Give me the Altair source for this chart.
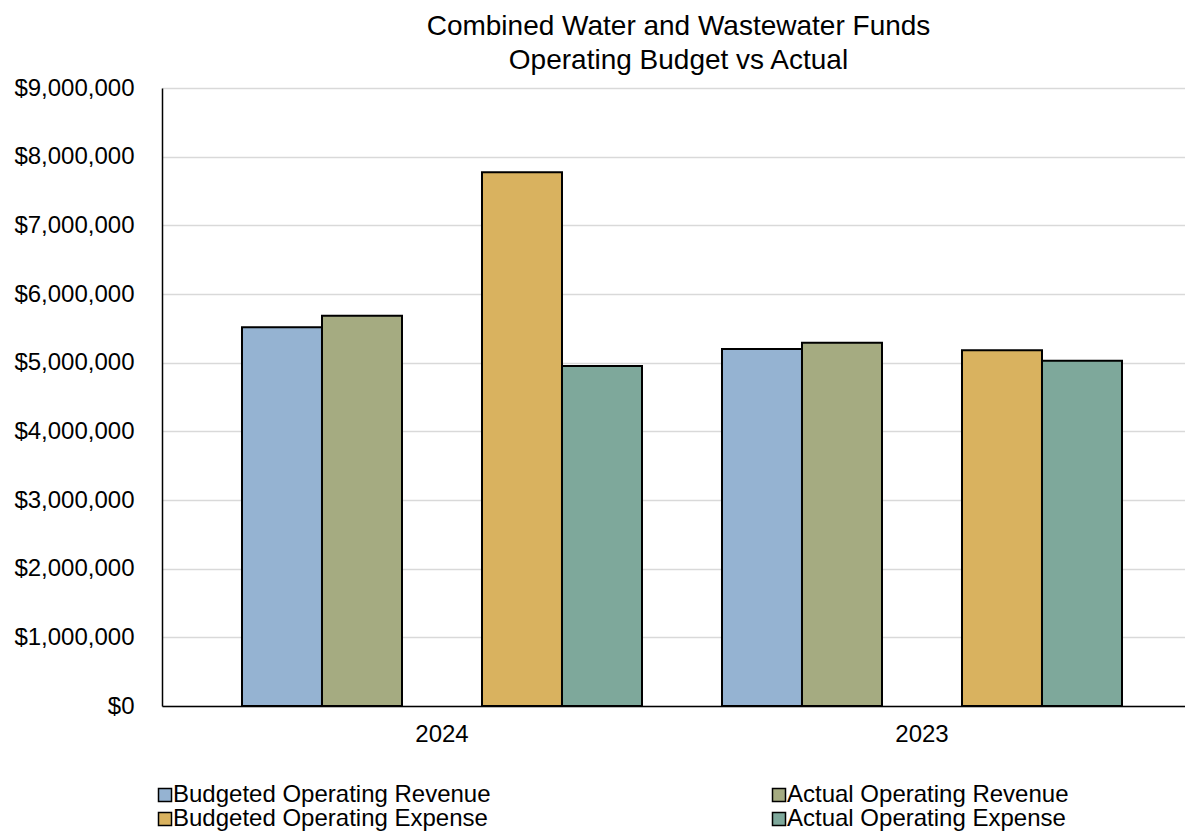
import altair as alt
import pandas as pd

years = ["2024", "2023"]
series = [
    "Budgeted Operating Revenue",
    "Actual Operating Revenue",
    "Budgeted Operating Expense",
    "Actual Operating Expense",
]
colors = ["#95B3D2", "#A5AB81", "#D9B25F", "#7EA89B"]
budgeted_revenue = [5515000, 5199000]
actual_revenue = [5684000, 5291000]
budgeted_expense = [7772000, 5180000]
actual_expense = [4950000, 5029000]
y_ticks = [0, 1000000, 2000000, 3000000, 4000000, 5000000, 6000000, 7000000, 8000000, 9000000]

rows = []
for i, yr in enumerate(years):
    for s, vals in zip(series, [budgeted_revenue, actual_revenue, budgeted_expense, actual_expense]):
        rows.append({"year": yr, "series": s, "value": vals[i]})
df = pd.DataFrame(rows)

slot_domain = [series[0], series[1], "gap", series[2], series[3]]
FONT = "Liberation Sans"

chart = alt.Chart(df).mark_bar(stroke="black", strokeWidth=2).encode(
    x=alt.X("year:N", sort=years,
            scale=alt.Scale(domain=years, paddingInner=0.16667, paddingOuter=0.14896, align=0.5594),
            axis=alt.Axis(title=None, labelAngle=0, ticks=False, tickSize=0, labelPadding=16,
                          domainColor="black", domainWidth=1.5, labelFontSize=24,
                          labelFont=FONT, labelColor="black", grid=False)),
    xOffset=alt.XOffset("series:N", scale=alt.Scale(domain=slot_domain, paddingInner=0, paddingOuter=0)),
    y=alt.Y("value:Q", scale=alt.Scale(domain=[0, 9000000], nice=False),
            axis=alt.Axis(title=None, values=y_ticks, format="$,.0f", ticks=False, tickSize=0,
                          labelPadding=28, domainColor="black", domainWidth=1.5,
                          gridColor="#d9d9d9", gridWidth=1.5, labelFontSize=24,
                          labelFont=FONT, labelColor="black")),
    color=alt.Color("series:N", scale=alt.Scale(domain=series, range=colors),
                    legend=alt.Legend(title=None, orient="none", legendX=-9, legendY=695,
                                      columns=2, columnPadding=276, rowPadding=0,
                                      symbolType="square", symbolSize=169,
                                      symbolStrokeColor="black", symbolStrokeWidth=1.5,
                                      labelFontSize=24, labelFont=FONT, labelColor="black",
                                      labelOffset={"expr": "-4"}, labelLimit=0,
                                      direction="horizontal")),
).properties(
    width=1023,
    height=618,
    padding={"left": 5, "top": 5, "right": 0, "bottom": 0},
    title=alt.TitleParams(
        text=["Combined Water and Wastewater Funds", "Operating Budget vs Actual"],
        font=FONT, fontSize=28, fontWeight="normal", color="black",
        anchor="middle", dx=5, lineHeight=34, offset=1,
    ),
).configure_view(stroke=None)

chart.save("out.html", embed_options={"renderer": "svg", "actions": False})
